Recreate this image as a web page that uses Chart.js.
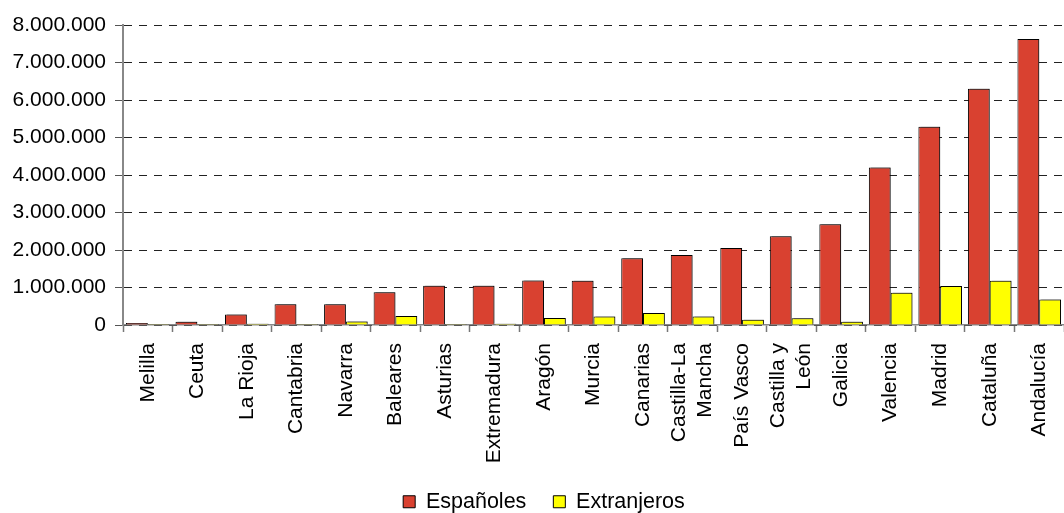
<!DOCTYPE html>
<html>
<head>
<meta charset="utf-8">
<script src="https://cdn.jsdelivr.net/npm/chart.js@4/dist/chart.umd.min.js"></script>
<style>
  html, body { margin: 0; padding: 0; background: #fff; }
  #wrap { width: 1064px; height: 513px; }
</style>
</head>
<body>
<div id="wrap"><canvas id="chart"></canvas></div>
<script>
  // Comunidades, ordered as in the chart
  const regions = [
    "Melilla", "Ceuta", "La Rioja", "Cantabria", "Navarra", "Baleares",
    "Asturias", "Extremadura", "Aragón", "Murcia", "Canarias",
    ["Castilla-La", "Mancha"], "País Vasco", ["Castilla y", "León"],
    "Galicia", "Valencia", "Madrid", "Cataluña", "Andalucía"
  ];
  const espanoles = [
    55000, 85000, 280000, 555000, 555000, 875000, 1050000, 1050000, 1185000,
    1180000, 1780000, 1870000, 2055000, 2370000, 2690000, 4200000, 5290000,
    6300000, 7630000
  ];
  const extranjeros = [
    3000, 3000, 35000, 30000, 95000, 240000, 30000, 35000, 190000,
    230000, 320000, 230000, 140000, 180000, 90000, 860000, 1040000,
    1180000, 680000
  ];
  const yTicks = [0, 1000000, 2000000, 3000000, 4000000, 5000000, 6000000, 7000000, 8000000];

  const font = "'Liberation Sans', Arial, sans-serif";

  // legend sits low at the bottom, a bit right of centre
  const legendFit = {
    id: "legendFit",
    afterInit(chart) {
      const lg = chart.legend;
      const orig = lg.fit;
      lg.fit = function () {
        orig.call(this);
        this.height = 49;
      };
    },
    afterLayout(chart) {
      chart.legend.left += 12;
      chart.legend.right += 12;
    }
  };

  // centre the two-line category labels on their tick
  const centerLines = {
    id: "centerLines",
    beforeDraw(chart) {
      const s = chart.scales.x;
      if (s._centered) return;
      const orig = s._computeLabelItems;
      s._computeLabelItems = function (area) {
        const items = orig.call(this, area);
        items.forEach(it => {
          if (Array.isArray(it.label)) {
            it.textOffset -= it.font.lineHeight * (it.label.length - 1) / 2;
          }
        });
        return items;
      };
      s._labelItems = null;
      s._centered = true;
    }
  };

  // light grey drop shadow on the bars
  const barShadow = {
    id: "barShadow",
    beforeDatasetsDraw(chart) {
      const ctx = chart.ctx;
      ctx.save();
      ctx.shadowColor = "rgba(0,0,0,0.35)";
      ctx.shadowOffsetX = 2;
      ctx.shadowOffsetY = -1;
      ctx.shadowBlur = 0;
    },
    afterDatasetsDraw(chart) {
      chart.ctx.restore();
    }
  };

  function dots(v) {
    return String(v).replace(/\B(?=(\d{3})+(?!\d))/g, ".");
  }

  new Chart(document.getElementById("chart"), {
    type: "bar",
    data: {
      labels: regions,
      datasets: [
        {
          label: "Españoles",
          data: espanoles,
          backgroundColor: "#D94130",
          borderColor: "#000",
          borderWidth: 1
        },
        {
          label: "Extranjeros",
          data: extranjeros,
          backgroundColor: "#FFFF00",
          borderColor: "#000",
          borderWidth: 1
        }
      ]
    },
    options: {
      responsive: true,
      maintainAspectRatio: false,
      animation: false,
      layout: { padding: { top: 25, right: 0, left: 0, bottom: 0 } },
      datasets: {
        bar: { categoryPercentage: 0.88, barPercentage: 1.0 }
      },
      scales: {
        x: {
          grid: {
            offset: true,
            drawOnChartArea: false,
            drawTicks: true,
            tickLength: 7,
            tickColor: "#777",
            tickWidth: 1.5
          },
          border: { color: "#888", width: 1.5 },
          ticks: {
            color: "#000",
            font: { family: font, size: 21, lineHeight: 1.24 },
            minRotation: 90,
            maxRotation: 90,
            autoSkip: false,
            padding: 11
          },
          afterFit(scale) {
            scale.height = 139;
            scale.paddingLeft = 0;
            scale.paddingRight = 0;
          }
        },
        y: {
          min: 0,
          max: 8000000,
          afterBuildTicks(scale) {
            scale.ticks = yTicks.map(v => ({ value: v }));
          },
          grid: {
            color: "#222",
            lineWidth: 1,
            tickLength: 8,
            tickColor: "#555",
            tickBorderDash: []
          },
          border: { color: "#888", width: 2, dash: [8, 7] },
          ticks: {
            color: "#000",
            font: { family: font, size: 21 },
            padding: 9,
            callback: v => dots(v)
          },
          afterFit(scale) { scale.width = 123; }
        }
      },
      plugins: {
        legend: {
          position: "bottom",
          labels: {
            color: "#000",
            font: { family: font, size: 21.5 },
            boxWidth: 12,
            boxHeight: 12,
            padding: 27
          }
        },
        tooltip: { enabled: false }
      }
    },
    plugins: [legendFit, centerLines, barShadow]
  });
</script>
</body>
</html>
